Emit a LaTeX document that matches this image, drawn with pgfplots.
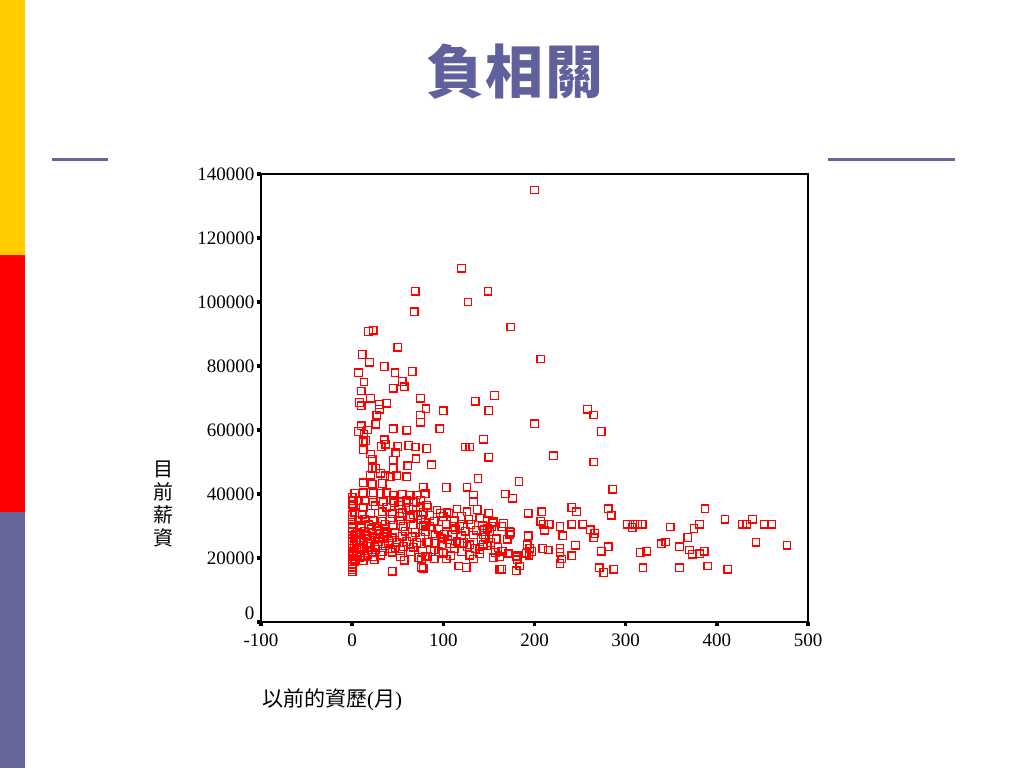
\documentclass[border=0pt]{standalone}
\usepackage{pgfplots}
\pgfplotsset{compat=1.18}
\usepackage{fontspec}
\setmainfont{Liberation Serif}
\newfontfamily\cjk{Noto Sans CJK TC}
\definecolor{slate}{RGB}{102,102,153}
\definecolor{titleblue}{RGB}{96,96,156}
\definecolor{baryellow}{RGB}{255,204,0}
\definecolor{barred}{RGB}{255,0,0}

% previous experience (months) vs current salary
\pgfplotstableread{
x y
200 135000
120 110600
149 103400
69 103400
127 100000
68 96900
174 92200
18 90800
23 91200
207 82200
11 83600
50 85900
19 81200
35 79800
7 77900
47 77900
66 78300
13 75000
55 75200
57 73500
45 73100
10 72200
156 70800
135 69000
150 66100
75 69900
20 69900
8 68600
10 67600
30 68000
38 68400
30 66500
81 66600
100 66000
27 64600
75 64700
75 62400
26 61800
10 61300
7 59500
17 60000
45 60400
60 59900
96 60400
13 58700
12 56700
15 56700
35 56900
37 55600
32 54800
12 53800
50 54800
62 55200
69 54700
82 54200
124 54700
129 54700
144 57100
150 51500
20 52500
22 50900
48 52900
45 50600
70 51000
87 49100
61 48800
22 48000
26 48000
45 48000
200 61900
221 51900
258 66500
265 64700
273 59500
265 50000
183 43900
286 41500
168 40000
176 38700
138 44800
20 45900
31 46500
36 45700
42 45400
49 45700
60 45400
12 43500
22 43100
33 43300
78 42100
103 42000
126 42100
3 40200
12 40400
23 40400
31 40200
38 40400
45 39700
55 39900
64 39600
71 39700
80 40200
133 39700
1.5 37900
7 37900
14 37900
23 37500
34 37600
45 37900
53 37500
60 37900
67 37600
75 38100
133 37600
93 35000
104 34300
115 35300
126 34400
150 34000
137 35200
120 33000
106 34000
97 34000
83 35800
85 33300
154 31000
153 29800
151 28200
143 30100
145 28800
103 30600
111 29800
113 28800
173 28200
173 27200
170 25800
133 27200
120 26900
115 25100
101 27400
91 27000
80 29800
85 29800
142 25800
144 24300
108 24400
98 24100
91 24600
84 24800
118 24600
122 24800
129 24100
157 21700
165 22100
171 21300
181 20700
162 20400
155 20100
140 21300
129 20900
133 19700
108 20700
103 19700
90 22500
90 19700
83 20400
76 19600
117 17500
125 17000
162 16500
180 16000
184 17500
78 16800
155 31300
166 30800
164 29800
148 29300
144 27200
193 34000
208 34400
241 35800
246 34400
281 35400
284 33400
387 35400
207 31500
210 30600
216 30600
211 28700
228 29800
241 30600
253 30600
261 28800
266 27700
265 26300
231 26900
302 30600
308 30600
313 30600
318 30600
307 29500
349 29700
375 29200
381 30600
368 26400
409 32100
428 30600
433 30600
439 32100
452 30600
460 30600
443 24900
477 24000
339 24400
344 25000
359 23500
370 22500
373 21200
381 21300
386 22100
390 17500
412 16500
359 16900
316 21700
323 22100
319 16900
273 22100
281 23500
271 16900
276 15500
287 16500
245 24000
241 20700
228 23000
228 21700
230 19700
228 18300
209 23000
215 22500
193 26900
192 24100
195 23000
197 22000
191 21500
194 20900
170 25900
173 27500
174 28100
164 22000
171 21500
180 20400
181 19400
164 16500
1.5 36200
12 35700
25 36300
38 35900
51 36400
62 35800
75 36100
82 36500
3 34200
11 33700
20 34000
33 34400
44 33800
55 34100
67 33600
78 34300
0 32100
7 31700
14 32200
23 31800
33 31500
42 32000
53 31600
64 32300
75 31900
0 30500
9 30100
18 30400
27 29900
36 30600
45 30200
56 29800
67 30400
78 30100
0 28400
6 28000
14 28300
22 27800
29 28500
38 28100
47 27900
58 28400
69 28000
80 28200
2 26800
9 26400
16 26900
25 26500
34 26700
44 26300
55 26800
66 26600
75 26400
0 25300
5 24900
12 25200
20 24800
29 25100
40 25400
49 24900
60 25200
71 24800
82 25000
2 23700
9 23300
16 23600
25 23400
36 23800
47 23300
56 23600
67 23400
0 22100
5 21800
13 22200
22 21700
33 22000
44 21800
53 22300
64 21900
77 22000
1 20500
8 20200
14 20600
23 20300
53 20500
73 20200
80 20600
2 19400
12 19200
24 19500
57 19300
76 19400
0 18300
0 17100
0 15700
0 16400
0 27200
0 24000
0 21000
0 19800
0 39000
0 36800
0 33500
0 29300
44 15900
76 17100
4 27500
8 25800
11 23000
15 27300
18 24300
21 29100
26 22700
30 26000
6 21200
10 29400
17 21000
28 23900
35 27600
40 24600
3 19000
7 23000
19 26100
31 20900
37 29000
42 22800
46 37200
52 33000
59 35000
63 32900
70 37400
72 33300
80 31200
88 27500
90 31500
95 29000
98 26000
100 33000
105 25700
110 27000
112 31600
118 30000
124 28400
128 32000
130 30500
136 28700
140 32500
146 26500
95 22000
100 21500
112 23000
120 22000
126 23600
135 23000
140 22700
148 23800
152 24800
158 26000
160 23300
}\salary

\begin{document}
\begin{tikzpicture}[x=1pt,y=1pt]
\path[use as bounding box, fill=white] (0,0) rectangle (1024,768);
\fill[baryellow] (0,513) rectangle (25,768);
\fill[barred] (0,256) rectangle (25,513);
\fill[slate] (0,0) rectangle (25,256);
\draw[slate, line width=3] (52,608) -- (108,608);
\draw[slate, line width=3] (828,608) -- (955,608);
\node[font=\cjk\bfseries\fontsize{58}{60}\selectfont, text=titleblue] at (515,696) {負\hspace{2pt}相\hspace{2pt}關};

\begin{axis}[
    at={(261pt,146pt)}, anchor=south west,
    scale only axis,
    width=547pt, height=448pt,
    xmin=-100, xmax=500,
    ymin=0, ymax=140000,
    xtick={-100,0,100,200,300,400,500},
    xticklabels={-100,0,100,200,300,400,500},
    ytick={0,20000,40000,60000,80000,100000,120000,140000},
    yticklabels={\raisebox{18pt}{0},20000,40000,60000,80000,100000,120000,140000},
    scaled y ticks=false,
    xtick pos=bottom, ytick pos=left,
    tick align=outside,
    major tick length=4pt,
    tick style={line width=3.5pt, black},
    axis line style={line width=1.6pt},
    ticklabel style={font=\fontsize{19}{19}\selectfont},
    xticklabel style={yshift=-4pt},
    yticklabel style={xshift=1pt},
    ]
    \addplot[only marks, mark=square, mark size=3.8pt,
        mark options={draw=red, line width=1.3pt, fill=none}] table {\salary};
\end{axis}

\node[font=\cjk\fontsize{20}{23}\selectfont, align=center, inner sep=0] at (163,264) {目\\前\\薪\\資};
\node[font=\fontsize{21}{24}\selectfont, anchor=west, inner sep=0] at (262,68) {{\cjk 以前的資歷}({\cjk 月})};
\end{tikzpicture}
\end{document}
